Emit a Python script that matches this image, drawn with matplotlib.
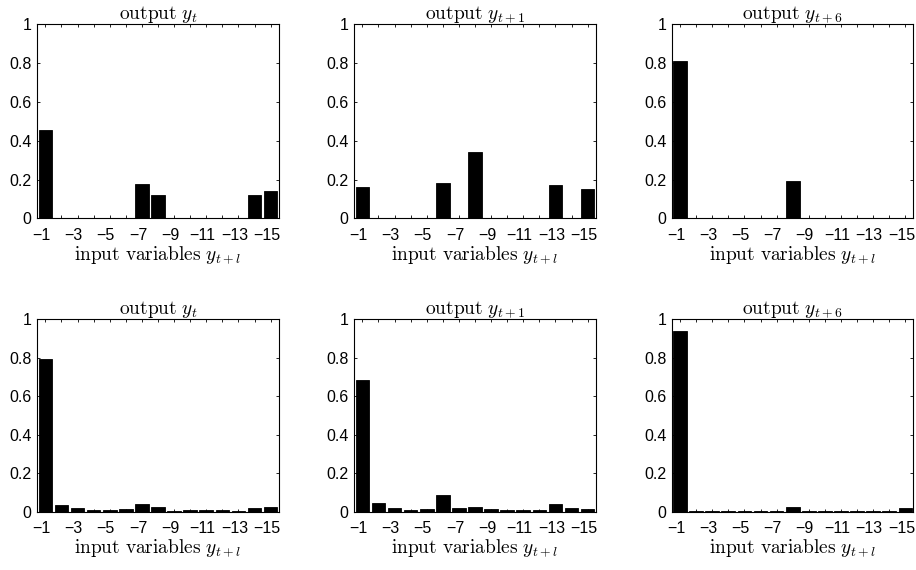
import matplotlib
matplotlib.use("Agg")
import matplotlib.pyplot as plt
import matplotlib.transforms as mtransforms
import numpy as np

plt.rcParams['mathtext.fontset'] = 'cm'
plt.rcParams['font.family'] = ['Liberation Sans', 'DejaVu Sans']

lags = list(range(1, 16))
tick_labels = ['\u2212%d' % l if l % 2 == 1 else '' for l in lags]
y_ticks = [0, 0.2, 0.4, 0.6, 0.8, 1.0]
y_tick_labels = ['0', '0.2', '0.4', '0.6', '0.8', '1']

titles = [r'$\mathrm{output}\ y_t$', r'$\mathrm{output}\ y_{t+1}$', r'$\mathrm{output}\ y_{t+6}$']
xlabel = r'$\mathrm{input\ variables}\ y_{t+l}$'

# top row
top_yt = [0.457, 0, 0, 0, 0, 0, 0.177, 0.122, 0, 0, 0, 0, 0, 0.119, 0.139]
top_yt1 = [0.163, 0, 0, 0, 0, 0.182, 0, 0.342, 0, 0, 0, 0, 0.170, 0, 0.149]
top_yt6 = [0.81, 0, 0, 0, 0, 0, 0, 0.193, 0, 0, 0, 0, 0, 0, 0]
# bottom row
bot_yt = [0.794, 0.033, 0.017, 0.009, 0.007, 0.016, 0.038, 0.026, 0.003, 0.009, 0.007, 0.007, 0.004, 0.019, 0.023]
bot_yt1 = [0.685, 0.043, 0.019, 0.009, 0.016, 0.085, 0.019, 0.026, 0.012, 0.007, 0.010, 0.009, 0.038, 0.017, 0.014]
bot_yt6 = [0.939, 0.002, 0.002, 0.003, 0.002, 0.002, 0.002, 0.024, 0.002, 0.002, 0.003, 0.002, 0.002, 0.002, 0.019]

series = [[top_yt, top_yt1, top_yt6], [bot_yt, bot_yt1, bot_yt6]]

W, H = 916, 570
fig = plt.figure(figsize=(W / 100, H / 100), dpi=100)

lefts = [37.3, 354.3, 672.0]
width = 241.4
rows = [(24.3, 218.3), (319.3, 511.7)]

offset = mtransforms.ScaledTranslation(-4 / 100, 0, fig.dpi_scale_trans)

for r, (top, bottom) in enumerate(rows):
    for c, left in enumerate(lefts):
        ax = fig.add_axes([left / W, 1 - bottom / H, width / W, (bottom - top) / H])
        ax.bar(lags, series[r][c], width=0.85, color='black', edgecolor='black', linewidth=0.6)
        ax.set_xlim(0.5, 15.5)
        ax.set_ylim(0, 1)
        ax.set_xticks(lags)
        ax.set_xticklabels(tick_labels)
        ax.set_yticks(y_ticks)
        ax.set_yticklabels(y_tick_labels)
        ax.tick_params(direction='in', top=True, right=True, length=2.5, width=0.6,
                       labelsize=11.5, colors='black')
        ax.tick_params(axis='x', pad=7)
        ax.tick_params(axis='y', pad=4)
        for lab in ax.get_xticklabels():
            lab.set_transform(lab.get_transform() + offset)
        for s in ax.spines.values():
            s.set_linewidth(0.8)
        ax.set_title(titles[c], fontsize=14, pad=4)
        ax.set_xlabel(xlabel, fontsize=14, labelpad=1)

fig.savefig('out.png', dpi=100)
